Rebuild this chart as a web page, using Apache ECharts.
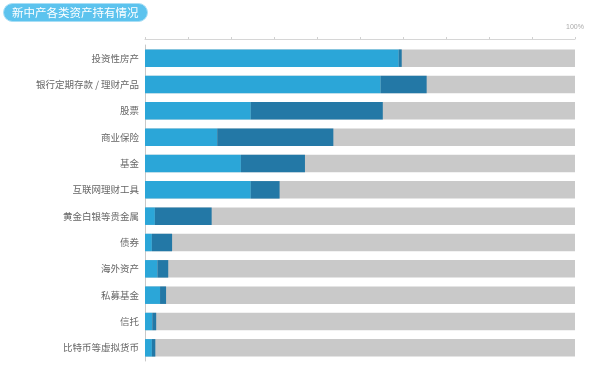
<!DOCTYPE html>
<html>
<head>
<meta charset="utf-8">
<script src="https://cdn.jsdelivr.net/npm/echarts@6/dist/echarts.min.js"></script>
<style>html,body{margin:0;padding:0;background:#fff;}#c{width:595px;height:371px;}</style>
</head>
<body>
<div id="c"></div>
<script>
const categories = ['投资性房产','银行定期存款 / 理财产品','股票','商业保险','基金','互联网理财工具','黄金白银等贵金属','债券','海外资产','私募基金','信托','比特币等虚拟货币'];
const lightValues = [59.0, 54.8, 24.6, 16.8, 22.3, 24.6, 2.3, 1.6, 2.9, 3.5, 1.7, 1.6];
const darkValues  = [0.7, 10.7, 30.7, 27.0, 14.9, 6.7, 13.2, 4.7, 2.5, 1.4, 0.9, 0.8];
const titleText = '新中产各类资产持有情况';

const chart = echarts.init(document.getElementById('c'), null, {renderer: 'canvas'});
chart.setOption({
  animation: false,
  backgroundColor: '#fff',
  title: {
    text: titleText,
    left: 3, top: 3,
    padding: [3, 9, 3, 9],
    backgroundColor: '#5cc3ee',
    borderColor: '#a9def5',
    borderWidth: 1,
    borderRadius: 10,
    textStyle: {color: '#fff', fontSize: 11.5, fontWeight: 'normal', fontFamily: 'Noto Sans CJK SC', lineHeight: 13}
  },
  grid: {left: 145, right: 20, top: 45, bottom: 10},
  xAxis: {
    type: 'value', position: 'top', offset: 6,
    min: 0, max: 100, interval: 10,
    splitLine: {show: false},
    axisLine: {show: true, lineStyle: {color: '#d6d6d6', width: 1}},
    axisTick: {show: true, length: 2, lineStyle: {color: '#d0d0d0'}},
    axisLabel: {
      show: true, margin: 8, fontSize: 7, color: '#aaa',
      formatter: v => v === 100 ? '100%' : ''
    }
  },
  yAxis: {
    type: 'category', data: categories, inverse: true,
    axisLine: {show: true, lineStyle: {color: '#c8c8c8'}},
    axisTick: {show: false},
    axisLabel: {fontSize: 9.5, color: '#666', margin: 6, fontFamily: 'Noto Sans CJK SC'}
  },
  series: [
    {
      type: 'bar', stack: 'a', data: lightValues, barWidth: 17.5,
      itemStyle: {color: '#2ba6d8'},
      showBackground: true,
      backgroundStyle: {color: '#c9c9c9'}
    },
    {
      type: 'bar', stack: 'a', data: darkValues, barWidth: 17.5,
      itemStyle: {color: '#2378a6'}
    }
  ]
});
</script>
</body>
</html>
